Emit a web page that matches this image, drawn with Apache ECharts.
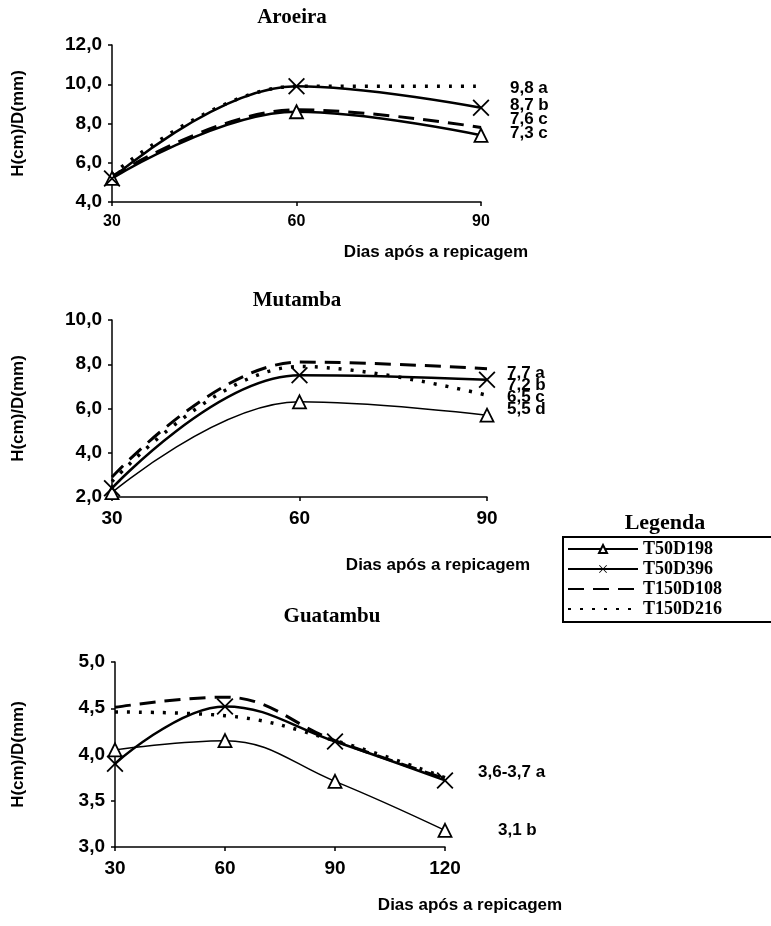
<!DOCTYPE html>
<html>
<head>
<meta charset="utf-8">
<script src="https://cdn.jsdelivr.net/npm/echarts@6/dist/echarts.min.js"></script>
<style>
html,body{margin:0;padding:0;background:#fff;}
#chart{width:771px;height:926px;}
</style>
</head>
<body>
<div id="chart"></div>
<script>
// ---- data ----
const seriesNames = ['T50D198', 'T50D396', 'T150D108', 'T150D216'];
const days3 = ['30', '60', '90'];
const days4 = ['30', '60', '90', '120'];

const aroeira_T50D198 = [5.2, 8.6, 7.4];
const aroeira_T50D396 = [5.2, 9.9, 8.8];
const aroeira_T150D108 = [5.3, 8.7, 7.8];
const aroeira_T150D216 = [5.4, 9.9, 9.9];
const aroeiraLabels = ['9,8 a', '8,7 b', '7,6 c', '7,3 c'];

const mutamba_T50D198 = [2.2, 6.3, 5.7];
const mutamba_T50D396 = [2.4, 7.5, 7.3];
const mutamba_T150D108 = [2.9, 8.1, 7.8];
const mutamba_T150D216 = [2.7, 7.9, 6.6];
const mutambaLabels = ['7,7 a', '7,2 b', '6,5 c', '5,5 d'];

const guatambu_T50D198 = [4.05, 4.15, 3.71, 3.18];
const guatambu_T50D396 = [3.90, 4.52, 4.14, 3.72];
const guatambu_T150D108 = [4.51, 4.62, 4.15, 3.74];
const guatambu_T150D216 = [4.46, 4.42, 4.15, 3.75];
const guatambuLabels = ['3,6-3,7 a', '3,1 b'];

const chartTitles = ['Aroeira', 'Mutamba', 'Guatambu'];
const xName = 'Dias após a repicagem';
const yName = 'H(cm)/D(mm)';
const legendTitle = 'Legenda';

// ---- styling ----
const SANS = "'Liberation Sans', Arial, sans-serif";
const SERIF = "'Liberation Serif', 'Times New Roman', serif";
const XPATH = 'path://M0,1.5L1.5,0L10,8.5L18.5,0L20,1.5L11.5,10L20,18.5L18.5,20L10,11.5L1.5,20L0,18.5L8.5,10Z';
const fmt = v => v.toFixed(1).replace('.', ',');

const grids = [
  {left: 112, top: 45, width: 369, height: 157},
  {left: 112, top: 320, width: 375, height: 177},
  {left: 115, top: 662, width: 330, height: 185}
];
const yRanges = [[4, 12, 2], [2, 10, 2], [3, 5, 0.5]];
const yLabelSize = [19, 19, 19];
const xLabelSize = [16, 19, 19];
const triLineW = [2.5, 1.5, 1.5];

const axisLine = {show: true, lineStyle: {color: '#000', width: 1.5}};
const axisTick = {show: true, length: 4, lineStyle: {color: '#000', width: 1.5}};

const xAxes = [days3, days3, days4].map((d, i) => ({
  type: 'category', gridIndex: i, data: d, boundaryGap: false,
  axisLine: axisLine, axisTick: Object.assign({alignWithLabel: true, inside: false}, axisTick),
  axisLabel: {color: '#000', fontFamily: SANS, fontWeight: 'bold', fontSize: xLabelSize[i], margin: 12},
  splitLine: {show: false}
}));
const yAxes = yRanges.map((r, i) => ({
  type: 'value', gridIndex: i, min: r[0], max: r[1], interval: r[2],
  axisLine: axisLine, axisTick: axisTick,
  axisLabel: {color: '#000', fontFamily: SANS, fontWeight: 'bold', fontSize: yLabelSize[i], margin: 10, formatter: fmt},
  splitLine: {show: false},
  name: yName, nameLocation: 'middle', nameRotate: 90, nameGap: (i === 2 ? 88 : 85),
  nameTextStyle: {color: '#000', fontFamily: SANS, fontWeight: 'bold', fontSize: 17}
}));

function makeSeries(i, d198, d396, d108, d216) {
  return [
    {name: 'T150D216', type: 'line', xAxisIndex: i, yAxisIndex: i, data: d216, smooth: 0.4,
     symbol: 'none', lineStyle: {color: '#000', width: 3.5, type: [3, 9], cap: 'butt'}, itemStyle: {color: '#000'}},
    {name: 'T150D108', type: 'line', xAxisIndex: i, yAxisIndex: i, data: d108, smooth: 0.4,
     symbol: 'none', lineStyle: {color: '#000', width: 3, type: [16, 9]}, itemStyle: {color: '#000'}},
    {name: 'T50D198', type: 'line', xAxisIndex: i, yAxisIndex: i, data: d198, smooth: 0.4,
     symbol: 'triangle', symbolSize: 13,
     lineStyle: {color: '#000', width: triLineW[i]}, itemStyle: {color: '#fff', borderColor: '#000', borderWidth: 1.8}},
    {name: 'T50D396', type: 'line', xAxisIndex: i, yAxisIndex: i, data: d396, smooth: 0.4,
     symbol: XPATH, symbolSize: 17,
     lineStyle: {color: '#000', width: 2.5}, itemStyle: {color: '#000'}}
  ];
}

const series = [].concat(
  makeSeries(0, aroeira_T50D198, aroeira_T50D396, aroeira_T150D108, aroeira_T150D216),
  makeSeries(1, mutamba_T50D198, mutamba_T50D396, mutamba_T150D108, mutamba_T150D216),
  makeSeries(2, guatambu_T50D198, guatambu_T50D396, guatambu_T150D108, guatambu_T150D216)
);

const titleCenters = [[292, 7], [297, 290], [332, 606]];
const titles = chartTitles.map((t, i) => ({
  text: t, left: titleCenters[i][0], top: titleCenters[i][1], textAlign: 'center', padding: 0,
  textStyle: {color: '#000', fontFamily: SERIF, fontWeight: 'bold', fontSize: 21}
}));

function txt(text, x, y, opts) {
  return {
    type: 'text', x: x, y: y,
    style: Object.assign({text: text, fill: '#000', font: 'bold 17px ' + SANS, textAlign: 'left', textVerticalAlign: 'middle'}, opts || {})
  };
}

const graphic = [
  txt(xName, 436, 252, {textAlign: 'center'}),
  txt(xName, 438, 565, {textAlign: 'center'}),
  txt(xName, 470, 905, {textAlign: 'center'}),
  txt(aroeiraLabels[0], 510, 88), txt(aroeiraLabels[1], 510, 105),
  txt(aroeiraLabels[2], 510, 119), txt(aroeiraLabels[3], 510, 133),
  txt(mutambaLabels[0], 507, 373), txt(mutambaLabels[1], 507, 385),
  txt(mutambaLabels[2], 507, 397), txt(mutambaLabels[3], 507, 409),
  txt(guatambuLabels[0], 478, 772),
  txt(guatambuLabels[1], 498, 830),
  txt(legendTitle, 665, 523, {textAlign: 'center', font: 'bold 22px ' + SERIF})
];

const chart = echarts.init(document.getElementById('chart'), null, {renderer: 'canvas'});
chart.setOption({
  animation: false,
  backgroundColor: '#fff',
  title: titles,
  grid: grids,
  xAxis: xAxes,
  yAxis: yAxes,
  legend: {
    data: [
      {name: 'T50D198'},
      {name: 'T50D396'},
      {name: 'T150D108', itemStyle: {color: 'rgba(0,0,0,0)', borderWidth: 0}},
      {name: 'T150D216', itemStyle: {color: 'rgba(0,0,0,0)', borderWidth: 0}}
    ],
    orient: 'vertical', left: 563, top: 537,
    itemWidth: 70, itemHeight: 10, itemGap: 2,
    padding: [3, 60, 4, 4], borderColor: '#000', borderWidth: 2, backgroundColor: '#fff',
    selectedMode: false,
    textStyle: {color: '#000', fontFamily: SERIF, fontWeight: 'bold', fontSize: 18}
  },
  graphic: graphic,
  series: series
});
</script>
</body>
</html>
